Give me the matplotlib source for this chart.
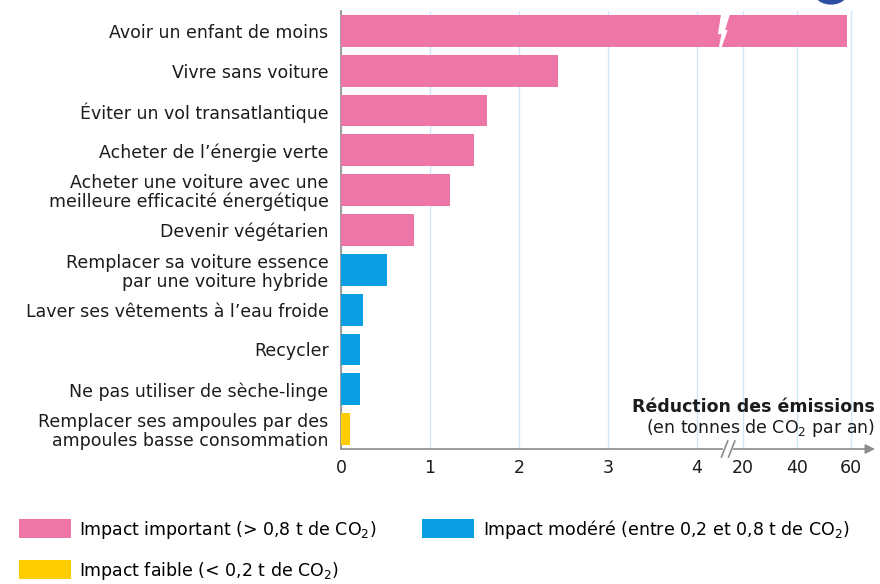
import matplotlib
matplotlib.use('Agg')
import matplotlib.pyplot as plt
from matplotlib.patches import Patch, Polygon, Circle
import numpy as np

plt.rcParams['font.family'] = ['DejaVu Sans']

# --- data ---
actions = [
    "Avoir un enfant de moins",
    "Vivre sans voiture",
    "Éviter un vol transatlantique",
    "Acheter de l’énergie verte",
    "Acheter une voiture avec une\nmeilleure efficacité énergétique",
    "Devenir végétarien",
    "Remplacer sa voiture essence\npar une voiture hybride",
    "Laver ses vêtements à l’eau froide",
    "Recycler",
    "Ne pas utiliser de sèche-linge",
    "Remplacer ses ampoules par des\nampoules basse consommation",
]
reduction = [58.6, 2.44, 1.64, 1.49, 1.22, 0.82, 0.52, 0.25, 0.21, 0.21, 0.10]
impact = ['fort', 'fort', 'fort', 'fort', 'fort', 'fort',
          'modere', 'modere', 'modere', 'modere', 'faible']
xticks = [0, 1, 2, 3, 4, 20, 40, 60]

colors = {'fort': '#ee76a7', 'modere': '#0a9ee2', 'faible': '#ffcc00'}
legend_labels = {
    'fort': 'Impact important (> 0,8 t de CO$_2$)',
    'modere': 'Impact modéré (entre 0,2 et 0,8 t de CO$_2$)',
    'faible': 'Impact faible (< 0,2 t de CO$_2$)',
}

# broken axis: linear up to 4.3, then compressed
xp = [-100, 4.3, 20, 2000]
up = [-100, 4.3, 4.517, 4.517 + 0.0303 * 1980]
fwd = lambda v: np.interp(v, xp, up)
inv = lambda u: np.interp(u, up, xp)

W, H = 880, 584
txt = '#1c1c1c'
fig = plt.figure(figsize=(W / 100, H / 100), dpi=100)
ax = fig.add_axes([341 / W, 1 - 449 / H, (875 - 341) / W, (449 - 11) / H])
ax.set_xscale('function', functions=(fwd, inv))

y = np.arange(len(actions))
ax.barh(y, reduction, height=0.8, color=[colors[c] for c in impact], zorder=3)

ax.set_xlim(0, inv(6.0))
ax.set_ylim(len(actions) - 0.5, -0.5)

ax.set_yticks(y)
ax.set_yticklabels(actions, fontsize=12.5, color=txt, linespacing=1.05)
ax.set_xticks(xticks)
ax.set_xticklabels([str(t) for t in xticks], fontsize=12.5, color=txt)
ax.tick_params(axis='both', length=0, pad=7)
ax.tick_params(axis='y', pad=9)
ax.grid(axis='x', color='#cfe8f7', lw=1, zorder=0)
ax.set_axisbelow(True)

for s in ['top', 'right', 'bottom']:
    ax.spines[s].set_visible(False)
ax.spines['left'].set_color('#8c8c8c')
ax.spines['left'].set_linewidth(1.2)

# x axis with arrow
ax.annotate('', xy=(1.0, 0), xytext=(0, 0), xycoords='axes fraction',
            arrowprops=dict(arrowstyle='-|>', color='#8c8c8c', lw=1.2,
                            mutation_scale=14, shrinkA=0, shrinkB=0),
            annotation_clip=False, zorder=5)

# break mark on axis
yb = len(actions) - 0.5
ax.plot([inv(4.31), inv(4.38)], [yb, yb], color='white', lw=3,
        clip_on=False, zorder=5)
for du in (0.0, 0.08):
    u0 = 4.31 + du
    ax.plot([inv(u0 - 0.035), inv(u0 + 0.035)], [yb + 0.2, yb - 0.2],
            color='#8c8c8c', lw=1.2, clip_on=False, zorder=6)

# lightning break in first bar
pts_u = [(4.27, -0.42), (4.37, -0.42), (4.315, -0.02), (4.345, -0.02),
         (4.275, 0.42), (4.245, 0.42), (4.275, 0.08), (4.235, 0.08)]
ax.add_patch(Polygon([(inv(u), v) for u, v in pts_u], closed=True,
                     facecolor='white', edgecolor='none', zorder=4))

# axis title
ax.text(1.0, 0.075, 'Réduction des émissions', transform=ax.transAxes,
        ha='right', va='bottom', fontsize=12.5, fontweight='bold', color=txt)
ax.text(1.0, 0.022, '(en tonnes de CO$_2$ par an)', transform=ax.transAxes,
        ha='right', va='bottom', fontsize=12.5, color=txt)

# legend
order = ['fort', 'faible', 'modere']
handles = [Patch(facecolor=colors[k], edgecolor='none', label=legend_labels[k]) for k in order]
fig.legend(handles=handles, loc='upper left', bbox_to_anchor=(3 / W, 1 - 502 / H),
           ncol=2, frameon=False, fontsize=12.5, handlelength=3.0, handleheight=1.3,
           handletextpad=0.5, columnspacing=2.6, labelspacing=1.1)

# logo fragment top-right
fig.patches.append(Circle((831 / W, 1 + 6 / H), 16 / W, transform=fig.transFigure,
                          facecolor='#2b4ea0', edgecolor='none'))

fig.savefig('out.png', dpi=100, facecolor='white')
